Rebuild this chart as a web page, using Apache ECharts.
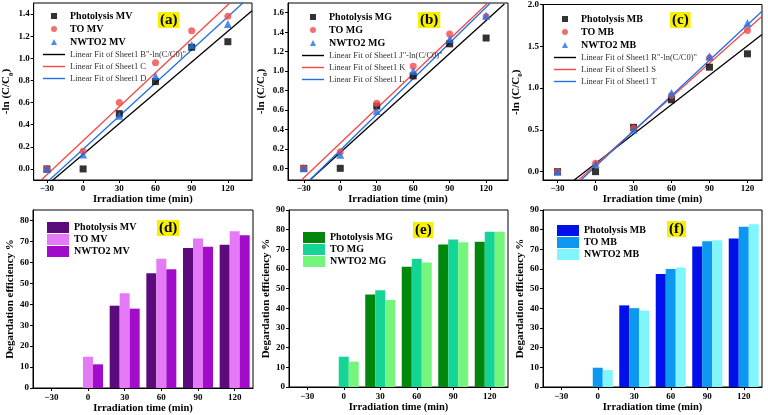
<!DOCTYPE html>
<html>
<head>
<meta charset="utf-8">
<script src="https://cdn.jsdelivr.net/npm/echarts@6/dist/echarts.min.js"></script>
<style>
html, body { margin: 0; background: #fff; }
#chart { width: 768px; height: 415px; }
</style>
</head>
<body>
<div id="chart"></div>
<script>
// irradiation times and tick labels
const times = [-30, 0, 30, 60, 90, 120];
const timeLabels = ['−30', '0', '30', '60', '90', '120'];
const effTicks80 = [0, 10, 20, 30, 40, 50, 60, 70, 80];
const effTicks90 = [0, 10, 20, 30, 40, 50, 60, 70, 80, 90];

// -ln(C/C0) values
const photoMV = [0, 0, 0.50, 0.79, 1.10, 1.15];
const toMV = [0, 0.16, 0.60, 0.96, 1.25, 1.38];
const nwMV = [0, 0.13, 0.48, 0.84, 1.12, 1.31];
const photoMG = [0, 0, 0.64, 0.95, 1.28, 1.34];
const toMG = [0, 0.17, 0.67, 1.05, 1.38, 1.56];
const nwMG = [0, 0.14, 0.59, 1.00, 1.33, 1.57];
const photoMB = [0, 0, 0.53, 0.86, 1.25, 1.41];
const toMB = [0, 0.10, 0.52, 0.91, 1.36, 1.69];
const nwMB = [0, 0.09, 0.50, 0.94, 1.38, 1.78];

// linear fit end points
const fitMVb = [[-25, -0.1], [140, 1.43]];
const fitMVr = [[-34.7, -0.1], [121.6, 1.5]];
const fitMVl = [[-27.9, -0.1], [132.4, 1.5]];
const fitMGb = [[-25, -0.12], [135, 1.69]];
const fitMGr = [[-31.9, -0.12], [121.3, 1.7]];
const fitMGl = [[-25, -0.12], [123.5, 1.7]];
const fitMBb = [[-16.8, -0.1], [131.5, 1.64]];
const fitMBr = [[-13.4, -0.1], [131.5, 1.86]];
const fitMBl = [[-11.5, -0.1], [131.5, 1.92]];

// degradation efficiency %
const effPhotoMV = [0, 0, 39.3, 54.8, 66.8, 68.4];
const effToMV = [0, 14.9, 45.2, 61.7, 71.4, 74.9];
const effNwMV = [0, 11.3, 37.9, 56.7, 67.4, 73.0];
const effPhotoMG = [0, 0, 47.0, 61.2, 72.4, 73.8];
const effToMG = [0, 15.4, 49.2, 65.2, 75.0, 78.9];
const effNwMG = [0, 12.9, 44.3, 63.3, 73.6, 78.9];
const effPhotoMB = [0, 0, 41.5, 57.5, 71.4, 75.5];
const effToMB = [0, 9.8, 40.1, 60.0, 74.1, 81.5];
const effNwMB = [0, 8.6, 38.9, 60.7, 74.6, 82.7];

const serif = '"Liberation Serif", "Times New Roman", serif';
const ax = { color: '#000', width: 1 };
const pts = arr => times.map((t, i) => [t, arr[i]]);

const grids = [
    { left: 33, top: 3, width: 219, height: 177 },
    { left: 288, top: 3, width: 220, height: 177 },
    { left: 543, top: 3, width: 219, height: 177 },
    { left: 33, top: 210, width: 220, height: 178 },
    { left: 289, top: 210, width: 219, height: 177 },
    { left: 543, top: 210, width: 219, height: 177 }
].map(g => Object.assign(g, { show: true, borderColor: '#000', borderWidth: 1 }));

function lineX(i, min, max) {
    return {
        gridIndex: i, type: 'value', min: min, max: max,
        axisLine: { show: true, onZero: false, lineStyle: ax },
        axisTick: { show: true, length: 3, customValues: times, lineStyle: ax },
        axisLabel: {
            customValues: times, margin: 4, color: '#000',
            fontFamily: serif, fontWeight: 'bold', fontSize: 9,
            formatter: v => String(v).replace('-', '−')
        },
        splitLine: { show: false },
        name: 'Irradiation time (min)', nameLocation: 'middle', nameGap: 13,
        nameTextStyle: { fontFamily: serif, fontWeight: 'bold', fontSize: 10.5, color: '#000' }
    };
}

function lineY(i, min, max, ticks, gap) {
    return {
        gridIndex: i, type: 'value', min: min, max: max,
        axisLine: { show: true, onZero: false, lineStyle: ax },
        axisTick: { show: true, length: 3, customValues: ticks, lineStyle: ax },
        axisLabel: {
            customValues: ticks, margin: 4, color: '#000',
            fontFamily: serif, fontWeight: 'bold', fontSize: 9,
            formatter: v => v.toFixed(1)
        },
        splitLine: { show: false },
        name: '-ln (C/C{s|0})', nameLocation: 'middle', nameGap: gap,
        nameTextStyle: {
            fontFamily: serif, fontWeight: 'bold', fontSize: 11, color: '#000',
            rich: { s: { fontFamily: serif, fontWeight: 'bold', fontSize: 7, verticalAlign: 'bottom', lineHeight: 16 } }
        }
    };
}

function barX(i) {
    return {
        gridIndex: i, type: 'category', data: timeLabels,
        axisLine: { show: true, lineStyle: ax },
        axisTick: { show: true, length: 3, alignWithLabel: true, lineStyle: ax },
        axisLabel: { margin: 5, color: '#000', fontFamily: serif, fontWeight: 'bold', fontSize: 9 },
        name: 'Irradiation time (min)', nameLocation: 'middle', nameGap: 14,
        nameTextStyle: { fontFamily: serif, fontWeight: 'bold', fontSize: 10.5, color: '#000' }
    };
}

function barY(i, max, ticks, gap) {
    return {
        gridIndex: i, type: 'value', min: 0, max: max,
        axisLine: { show: true, onZero: false, lineStyle: ax },
        axisTick: { show: true, length: 3, customValues: ticks, lineStyle: ax },
        axisLabel: { show: true, customValues: ticks, margin: 4, color: '#000', fontFamily: serif, fontWeight: 'bold', fontSize: 9 },
        splitLine: { show: false },
        name: 'Degardation efficiency %', nameLocation: 'middle', nameGap: gap,
        nameTextStyle: { fontFamily: serif, fontWeight: 'bold', fontSize: 11, color: '#000' }
    };
}

function scatter(name, i, arr, symbol, size, color) {
    return {
        name: name, type: 'scatter', xAxisIndex: i, yAxisIndex: i,
        data: pts(arr), symbol: symbol, symbolSize: size,
        itemStyle: { color: color }, z: 3
    };
}

function fit(name, i, arr, color) {
    return {
        name: name, type: 'line', xAxisIndex: i, yAxisIndex: i,
        data: arr, symbol: 'none', clip: true,
        lineStyle: { color: color, width: 1.3 }, itemStyle: { color: color }, z: 2
    };
}

function bar(name, i, arr, color) {
    return {
        name: name, type: 'bar', xAxisIndex: i, yAxisIndex: i,
        data: arr, barWidth: 10, barGap: '0%', itemStyle: { color: color }
    };
}

const sq = 'path://M0,0H1V1H0Z';
const tri = 'path://M0.5,0L1,1H0Z';
const dash = 'path://M0,0H22V1.4H0Z';
const boldTxt = { fontFamily: serif, fontWeight: 'bold', fontSize: 10, color: '#000' };
const fitTxt = { fontFamily: serif, fontWeight: 'normal', fontSize: 8.5, color: '#333' };

function lineLegend(left, top, names) {
    return {
        left: left, top: top, orient: 'vertical', itemWidth: 22, itemHeight: 6, itemGap: 3,
        data: [
            { name: names[0], icon: sq, textStyle: boldTxt },
            { name: names[1], icon: 'circle', textStyle: boldTxt },
            { name: names[2], icon: tri, textStyle: boldTxt },
            { name: names[3], icon: dash, textStyle: fitTxt },
            { name: names[4], icon: dash, textStyle: fitTxt },
            { name: names[5], icon: dash, textStyle: fitTxt }
        ]
    };
}

function barLegend(left, top, names) {
    return {
        left: left, top: top, orient: 'vertical', itemWidth: 22, itemHeight: 11, itemGap: 1,
        icon: 'rect', textStyle: boldTxt, data: names
    };
}

const namesA = ['Photolysis MV', 'TO MV', 'NWTO2 MV', 'Linear Fit of Sheet1 B"-ln(C/C0)"', 'Linear Fit of Sheet1 C', 'Linear Fit of Sheet1 D'];
const namesB = ['Photolysis MG', 'TO MG', 'NWTO2 MG', 'Linear Fit of Sheet1 J"-ln(C/C0)"', 'Linear Fit of Sheet1 K', 'Linear Fit of Sheet1 L'];
const namesC = ['Photolysis MB', 'TO MB', 'NWTO2 MB', 'Linear Fit of Sheet1 R"-ln(C/C0)"', 'Linear Fit of Sheet1 S', 'Linear Fit of Sheet1 T'];
const barNamesD = ['Photolysis MV ', 'TO MV ', 'NWTO2 MV '];
const barNamesE = ['Photolysis MG ', 'TO MG ', 'NWTO2 MG '];
const barNamesF = ['Photolysis MB ', 'TO MB ', 'NWTO2 MB '];

const RED = '#f44848', BLUE = '#1f6fe6';

function panelTitle(text, left, top) {
    return {
        text: text, left: left, top: top, padding: [1, 2, 0, 2],
        backgroundColor: '#f7f000',
        textStyle: { fontFamily: serif, fontWeight: 'bold', fontSize: 15, color: '#000', lineHeight: 15 }
    };
}

const chart = echarts.init(document.getElementById('chart'), null, { renderer: 'canvas' });
chart.setOption({
    animation: false,
    backgroundColor: '#fff',
    title: [
        panelTitle('(a)', 158, 12), panelTitle('(b)', 418, 12), panelTitle('(c)', 670, 12),
        panelTitle('(d)', 157, 220), panelTitle('(e)', 413, 222), panelTitle('(f)', 667, 221)
    ],
    grid: grids,
    legend: [
        lineLegend(38, 6, namesA), lineLegend(297, 7, namesB), lineLegend(549, 9, namesC),
        barLegend(42, 217, barNamesD), barLegend(298, 227, barNamesE), barLegend(552, 220, barNamesF)
    ],
    xAxis: [
        lineX(0, -41, 140), lineX(1, -43, 138), lineX(2, -41.5, 131.5),
        barX(3), barX(4), barX(5)
    ],
    yAxis: [
        lineY(0, -0.1, 1.5, [0, 0.2, 0.4, 0.6, 0.8, 1.0, 1.2, 1.4], 18),
        lineY(1, -0.12, 1.7, [0, 0.2, 0.4, 0.6, 0.8, 1.0, 1.2, 1.4, 1.6], 17),
        lineY(2, -0.1, 2.0, [0, 0.5, 1.0, 1.5, 2.0], 15),
        barY(3, 85, effTicks80, 16), barY(4, 90, effTicks90, 16), barY(5, 90, effTicks90, 16)
    ],
    series: [
        fit(namesA[3], 0, fitMVb, '#000'), fit(namesA[4], 0, fitMVr, RED), fit(namesA[5], 0, fitMVl, BLUE),
        scatter(namesA[0], 0, photoMV, 'rect', 7, '#000'),
        scatter(namesA[1], 0, toMV, 'circle', 7, RED),
        scatter(namesA[2], 0, nwMV, 'triangle', 8, BLUE),

        fit(namesB[3], 1, fitMGb, '#000'), fit(namesB[4], 1, fitMGr, RED), fit(namesB[5], 1, fitMGl, BLUE),
        scatter(namesB[0], 1, photoMG, 'rect', 7, '#000'),
        scatter(namesB[1], 1, toMG, 'circle', 7, RED),
        scatter(namesB[2], 1, nwMG, 'triangle', 8, BLUE),

        fit(namesC[3], 2, fitMBb, '#000'), fit(namesC[4], 2, fitMBr, RED), fit(namesC[5], 2, fitMBl, BLUE),
        scatter(namesC[0], 2, photoMB, 'rect', 7, '#000'),
        scatter(namesC[1], 2, toMB, 'circle', 7, RED),
        scatter(namesC[2], 2, nwMB, 'triangle', 8, BLUE),

        bar(barNamesD[0], 3, effPhotoMV, '#5c0b7d'), bar(barNamesD[1], 3, effToMV, '#e57af6'), bar(barNamesD[2], 3, effNwMV, '#a30bcb'),
        bar(barNamesE[0], 4, effPhotoMG, '#00870c'), bar(barNamesE[1], 4, effToMG, '#14d596'), bar(barNamesE[2], 4, effNwMG, '#74f57c'),
        bar(barNamesF[0], 5, effPhotoMB, '#0010ea'), bar(barNamesF[1], 5, effToMB, '#0c98f0'), bar(barNamesF[2], 5, effNwMB, '#80f6fb')
    ]
});
</script>
</body>
</html>
